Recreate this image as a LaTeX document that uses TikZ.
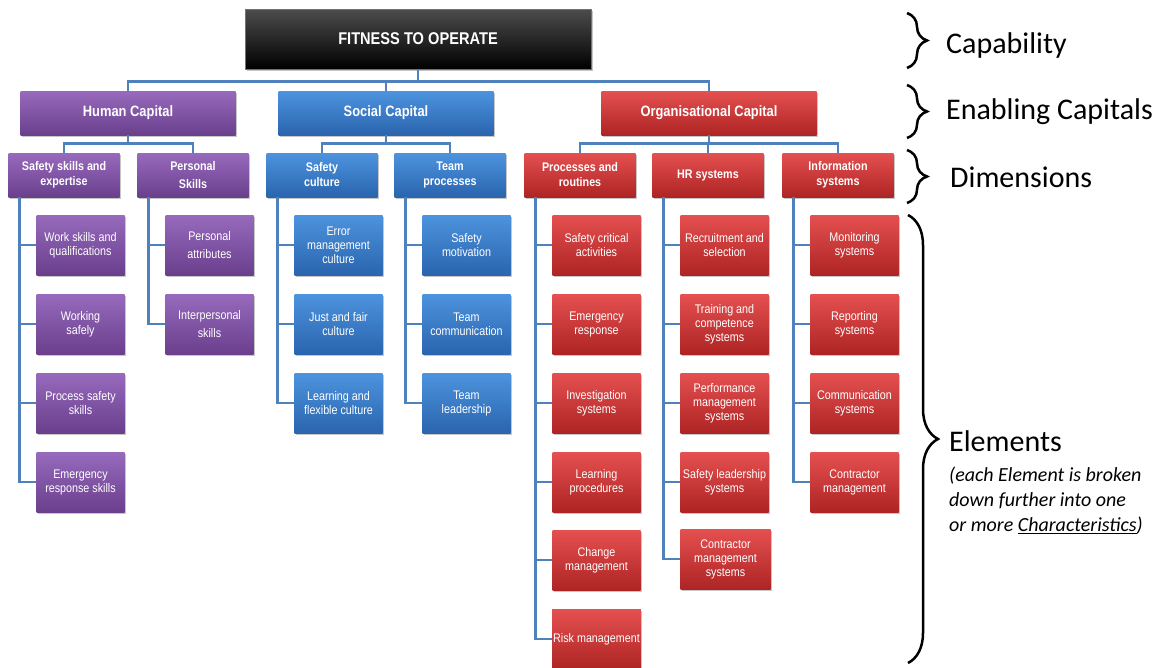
\documentclass[tikz,border=0pt]{standalone}
\usepackage{fontspec}
\setmainfont{Liberation Sans}
\newfontfamily\boxfont{Liberation Sans}[FakeStretch=0.86]
\newfontfamily\sidefont{Carlito}
\usetikzlibrary{shadows,decorations.pathreplacing}

\definecolor{purtop}{HTML}{976ABD}
\definecolor{purbot}{HTML}{6A3F8C}
\definecolor{blutop}{HTML}{4D93DE}
\definecolor{blubot}{HTML}{2A65AE}
\definecolor{redtop}{HTML}{E55050}
\definecolor{redbot}{HTML}{AE2424}
\definecolor{linkblue}{HTML}{4F81BD}

\begin{document}
\begin{tikzpicture}[x=1pt, y=-1pt,
  box/.style={align=center, text=white, inner sep=1pt,
    drop shadow={shadow xshift=1.5pt, shadow yshift=-1.5pt, opacity=0.45}},
  topbox/.style={box, top color=black!70, bottom color=black, draw=black!55,
    minimum width=346pt, minimum height=60pt,
    font=\boxfont\bfseries\fontsize{17}{20}\selectfont},
  capbox/.style={box, minimum width=215pt, minimum height=44pt,
    font=\boxfont\bfseries\fontsize{15}{18}\selectfont},
  dimbox/.style={box, minimum width=111pt, minimum height=44pt,
    font=\boxfont\bfseries\fontsize{12.5}{15}\selectfont},
  elbox/.style={box, minimum width=88pt, minimum height=60pt,
    font=\boxfont\fontsize{12.5}{14}\selectfont},
  humanfill/.style={top color=purtop, bottom color=purbot},
  socialfill/.style={top color=blutop, bottom color=blubot},
  orgfill/.style={top color=redtop, bottom color=redbot},
  conn/.style={draw=linkblue, line width=2.6pt},
  brc/.style={decorate, decoration={brace, amplitude=#1}, line width=2.5pt},
  sidelbl/.style={inner sep=0pt, font=\sidefont\fontsize{30}{35}\selectfont},
  notelbl/.style={inner sep=0pt, align=left,
    font=\sidefont\itshape\fontsize{20}{25}\selectfont}]

\useasboundingbox (0,0) rectangle (1165,667);

% capability
\node [topbox] (fit) at (418,39) {FITNESS TO OPERATE};

% enabling capitals
\node [capbox, humanfill] (hc) at (128,113) {Human Capital};
\node [capbox, socialfill] (sc) at (386,113) {Social Capital};
\node [capbox, orgfill] (oc) at (709,113) {Organisational Capital};

% dimensions
\node [dimbox, humanfill] (dss) at (64,175) {Safety skills and\\expertise};
\node [dimbox, humanfill] (dps) at (193,175) {Personal\\[3pt]Skills};
\node [dimbox, socialfill] (dsc) at (322,175) {Safety\\culture};
\node [dimbox, socialfill] (dtp) at (450,175) {Team\\processes};
\node [dimbox, orgfill] (dpr) at (580,175) {Processes and\\routines};
\node [dimbox, orgfill] (dhr) at (708,175) {HR systems};
\node [dimbox, orgfill] (dis) at (838,175) {Information\\systems};

% elements
\node [elbox, humanfill] (ss1) at (80.5,245) {Work skills and\\qualifications};
\node [elbox, humanfill] (ss2) at (80.5,324) {Working\\safely};
\node [elbox, humanfill] (ss3) at (80.5,403) {Process safety\\skills};
\node [elbox, humanfill] (ss4) at (80.5,482) {Emergency\\response skills};

\node [elbox, humanfill] (ps1) at (209.5,245) {Personal\\[4pt]attributes};
\node [elbox, humanfill] (ps2) at (209.5,324) {Interpersonal\\[4pt]skills};

\node [elbox, socialfill] (sc1) at (338.5,245) {Error\\management\\culture};
\node [elbox, socialfill] (sc2) at (338.5,324) {Just and fair\\culture};
\node [elbox, socialfill] (sc3) at (338.5,403) {Learning and\\flexible culture};

\node [elbox, socialfill] (tp1) at (466.5,245) {Safety\\motivation};
\node [elbox, socialfill] (tp2) at (466.5,324) {Team\\communication};
\node [elbox, socialfill] (tp3) at (466.5,403) {Team\\leadership};

\node [elbox, orgfill] (pr1) at (596.5,245) {Safety critical\\activities};
\node [elbox, orgfill] (pr2) at (596.5,324) {Emergency\\response};
\node [elbox, orgfill] (pr3) at (596.5,403) {Investigation\\systems};
\node [elbox, orgfill] (pr4) at (596.5,482) {Learning\\procedures};
\node [elbox, orgfill] (pr5) at (596.5,560) {Change\\management};
\node [elbox, orgfill] (pr6) at (596.5,639) {Risk management};

\node [elbox, orgfill] (hr1) at (724.5,245) {Recruitment and\\selection};
\node [elbox, orgfill] (hr2) at (724.5,324) {Training and\\competence\\systems};
\node [elbox, orgfill] (hr3) at (724.5,403) {Performance\\management\\systems};
\node [elbox, orgfill] (hr4) at (724.5,482) {Safety leadership\\systems};
\node [elbox, orgfill, minimum width=90pt] (hr5) at (725.5,559) {Contractor\\management\\systems};

\node [elbox, orgfill] (is1) at (854.5,245) {Monitoring\\systems};
\node [elbox, orgfill] (is2) at (854.5,324) {Reporting\\systems};
\node [elbox, orgfill] (is3) at (854.5,403) {Communication\\systems};
\node [elbox, orgfill] (is4) at (854.5,482) {Contractor\\management};

% tree lines
\foreach \c in {hc,sc,oc}
  \draw [conn] (fit.south) -- ++(0,12) -| (\c.north);
\foreach \d in {dss,dps}
  \draw [conn] (hc.south) -- ++(0,8) -| (\d.north);
\foreach \d in {dsc,dtp}
  \draw [conn] (sc.south) -- ++(0,8) -| (\d.north);
\foreach \d in {dpr,dhr,dis}
  \draw [conn] (oc.south) -- ++(0,8) -| (\d.north);

\foreach \e in {ss1,ss2,ss3,ss4}
  \draw [conn] ([xshift=11pt]dss.south west) |- (\e.west);
\foreach \e in {ps1,ps2}
  \draw [conn] ([xshift=11pt]dps.south west) |- (\e.west);
\foreach \e in {sc1,sc2,sc3}
  \draw [conn] ([xshift=11pt]dsc.south west) |- (\e.west);
\foreach \e in {tp1,tp2,tp3}
  \draw [conn] ([xshift=11pt]dtp.south west) |- (\e.west);
\foreach \e in {pr1,pr2,pr3,pr4,pr5,pr6}
  \draw [conn] ([xshift=11pt]dpr.south west) |- (\e.west);
\foreach \e in {hr1,hr2,hr3,hr4,hr5}
  \draw [conn] ([xshift=11pt]dhr.south west) |- (\e.west);
\foreach \e in {is1,is2,is3,is4}
  \draw [conn] ([xshift=11pt]dis.south west) |- (\e.west);

% braces and level names
\draw [brc=20pt] (907,13) -- (907,68);
\draw [brc=20pt] (907,85) -- (907,138);
\draw [brc=20pt] (907,150) -- (907,203);
\draw [brc=30pt] (908,215) -- (908,663);

\node [sidelbl, anchor=base west] (lcap) at (946,53) {Capability};
\node [sidelbl, anchor=base west] (lenb) at (946,119) {Enabling Capitals};
\node [sidelbl, anchor=base west] (ldim) at (950,187) {Dimensions};
\node [sidelbl, anchor=base west] (lelm) at (949,451) {Elements};
\node [notelbl, anchor=north west] (lnote) at (949,467)
  {(each Element is broken\\down further into one\\or more \underline{Characteristics})};

\end{tikzpicture}
\end{document}
